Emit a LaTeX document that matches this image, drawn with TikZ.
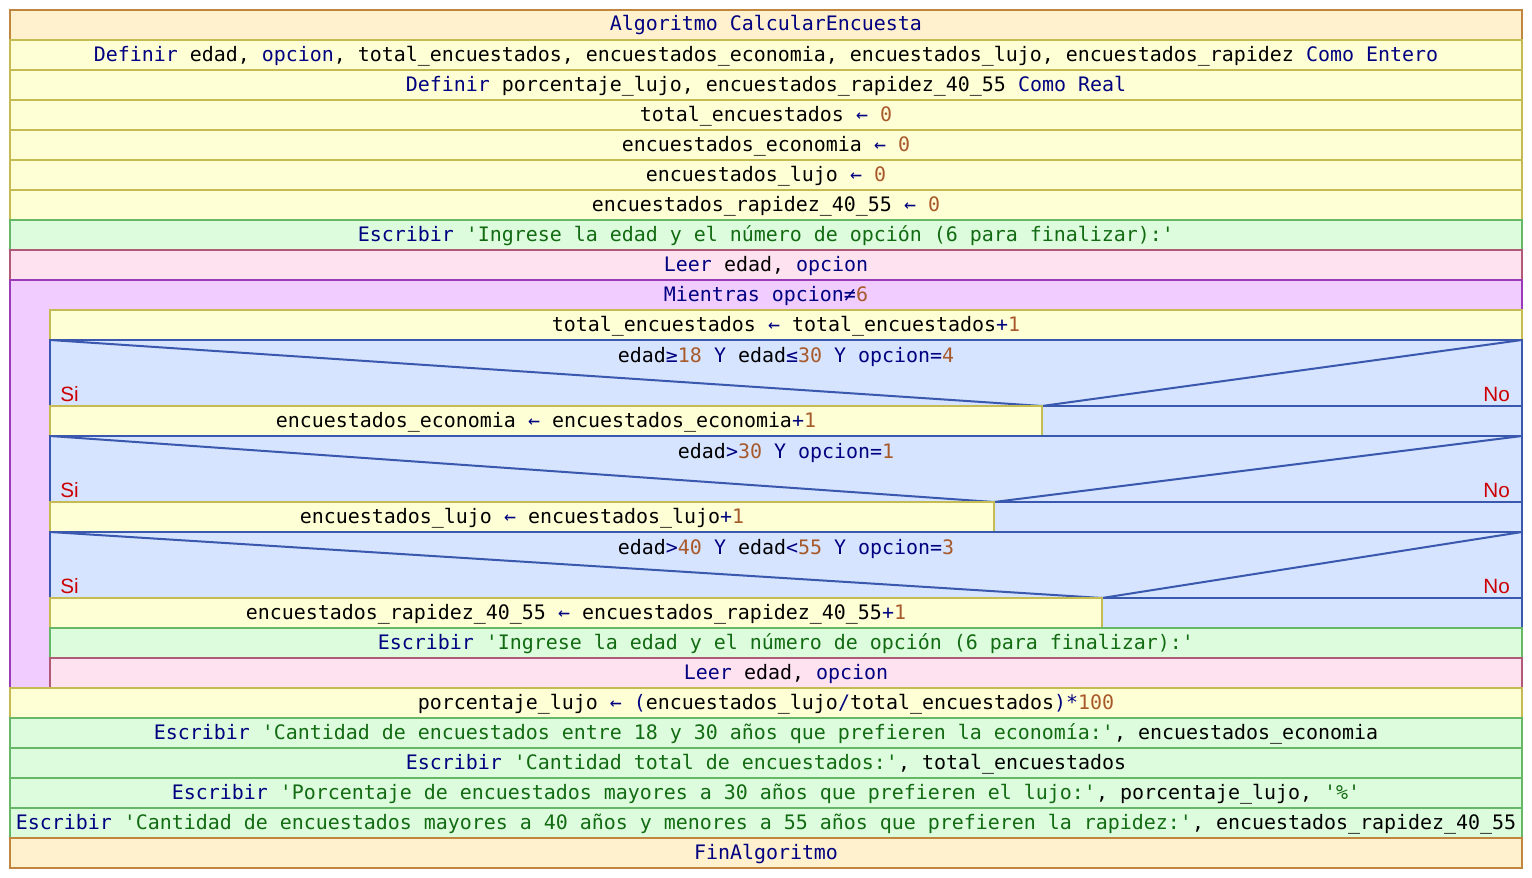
\documentclass[tikz,border=0pt]{standalone}
\usepackage{fontspec}
\setmonofont{DejaVu Sans Mono}
\newfontfamily\sisans{Liberation Sans}
\definecolor{orfill}{HTML}{FFF0CE}
\definecolor{ordraw}{HTML}{C0853E}
\definecolor{yefill}{HTML}{FFFFD6}
\definecolor{yedraw}{HTML}{C4BC52}
\definecolor{grfill}{HTML}{DDFCDD}
\definecolor{grdraw}{HTML}{66B866}
\definecolor{pkfill}{HTML}{FFE2F0}
\definecolor{pkdraw}{HTML}{B05A78}
\definecolor{pufill}{HTML}{F0CCFF}
\definecolor{pudraw}{HTML}{9A3CB8}
\definecolor{blfill}{HTML}{D6E4FF}
\definecolor{bldraw}{HTML}{3A58AE}
\definecolor{kwc}{HTML}{000080}
\definecolor{numc}{HTML}{A8592A}
\definecolor{strc}{HTML}{126B12}
\definecolor{sinoc}{HTML}{CC0000}
\newcommand\kwd[1]{\textcolor{kwc}{#1}}
\newcommand\nmb[1]{\textcolor{numc}{#1}}
\newcommand\strg[1]{\textcolor{strc}{#1}}
\newcommand\asg{\kwd{←}}
\begin{document}
\begin{tikzpicture}[x=0.75pt,y=-0.75pt,
  orbox/.style={fill=orfill,draw=ordraw,line width=1.5pt},
  yebox/.style={fill=yefill,draw=yedraw,line width=1.5pt},
  grbox/.style={fill=grfill,draw=grdraw,line width=1.5pt},
  pkbox/.style={fill=pkfill,draw=pkdraw,line width=1.5pt},
  pubox/.style={fill=pufill,draw=pudraw,line width=1.5pt},
  blbox/.style={fill=blfill,draw=bldraw,line width=1.5pt},
  diag/.style={draw=bldraw,line width=1.5pt},
  txt/.style={anchor=base,inner sep=0pt,font=\ttfamily\fontsize{14.95}{18}\selectfont},
  sino/.style={inner sep=0pt,font=\sisans\fontsize{15.5}{18}\selectfont,text=sinoc}]
\useasboundingbox (0,0) rectangle (1532,878);
% header rows
\draw[orbox] (10,10) rectangle (1522,40);
\node[txt] (t1) at (766,31) {\kwd{Algoritmo CalcularEncuesta}};
\draw[yebox] (10,40) rectangle (1522,70);
\node[txt] (t2) at (766,61) {\kwd{Definir} edad, \kwd{opcion}, total\_encuestados, encuestados\_economia, encuestados\_lujo, encuestados\_rapidez \kwd{Como Entero}};
\draw[yebox] (10,70) rectangle (1522,100);
\node[txt] (t3) at (766,91) {\kwd{Definir} porcentaje\_lujo, encuestados\_rapidez\_40\_55 \kwd{Como Real}};
\draw[yebox] (10,100) rectangle (1522,130);
\node[txt] (t4) at (766,121) {total\_encuestados \asg{} \nmb{0}};
\draw[yebox] (10,130) rectangle (1522,160);
\node[txt] (t5) at (766,151) {encuestados\_economia \asg{} \nmb{0}};
\draw[yebox] (10,160) rectangle (1522,190);
\node[txt] (t6) at (766,181) {encuestados\_lujo \asg{} \nmb{0}};
\draw[yebox] (10,190) rectangle (1522,220);
\node[txt] (t7) at (766,211) {encuestados\_rapidez\_40\_55 \asg{} \nmb{0}};
\draw[grbox] (10,220) rectangle (1522,250);
\node[txt] (t8) at (766,241) {\kwd{Escribir} \strg{'Ingrese la edad y el número de opción (6 para finalizar):'}};
\draw[pkbox] (10,250) rectangle (1522,280);
\node[txt] (t9) at (766,271) {\kwd{Leer} edad, \kwd{opcion}};
% while loop
\draw[pubox] (10,280) rectangle (1522,688);
\node[txt] (w) at (766,301) {\kwd{Mientras opcion≠}\nmb{6}};
\draw[yebox] (50,310) rectangle (1522,340);
\node[txt] (w1) at (786,331) {total\_encuestados \asg{} total\_encuestados\kwd{+}\nmb{1}};
% if 1
\draw[blbox] (50,340) rectangle (1522,436);
\coordinate (s1) at (1042,406);
\draw[diag] (50,340) -- (s1) -- (1522,340);
\draw[bldraw,line width=1.5pt] (50,406) -- (1522,406);
\node[txt] (c1) at (786,362) {edad\kwd{≥}\nmb{18} \kwd{Y} edad\kwd{≤}\nmb{30} \kwd{Y opcion=}\nmb{4}};
\node[sino,anchor=base west] (si1) at (60,401) {Si};
\node[sino,anchor=base east] (no1) at (1510,401) {No};
\draw[yebox] (50,406) rectangle (1042,436);
\node[txt] (a1) at (546,427) {encuestados\_economia \asg{} encuestados\_economia\kwd{+}\nmb{1}};
% if 2
\draw[blbox] (50,436) rectangle (1522,532);
\coordinate (s2) at (994,502);
\draw[diag] (50,436) -- (s2) -- (1522,436);
\draw[bldraw,line width=1.5pt] (50,502) -- (1522,502);
\node[txt] (c2) at (786,458) {edad\kwd{>}\nmb{30} \kwd{Y opcion=}\nmb{1}};
\node[sino,anchor=base west] (si2) at (60,497) {Si};
\node[sino,anchor=base east] (no2) at (1510,497) {No};
\draw[yebox] (50,502) rectangle (994,532);
\node[txt] (a2) at (522,523) {encuestados\_lujo \asg{} encuestados\_lujo\kwd{+}\nmb{1}};
% if 3
\draw[blbox] (50,532) rectangle (1522,628);
\coordinate (s3) at (1102,598);
\draw[diag] (50,532) -- (s3) -- (1522,532);
\draw[bldraw,line width=1.5pt] (50,598) -- (1522,598);
\node[txt] (c3) at (786,554) {edad\kwd{>}\nmb{40} \kwd{Y} edad\kwd{<}\nmb{55} \kwd{Y opcion=}\nmb{3}};
\node[sino,anchor=base west] (si3) at (60,593) {Si};
\node[sino,anchor=base east] (no3) at (1510,593) {No};
\draw[yebox] (50,598) rectangle (1102,628);
\node[txt] (a3) at (576,619) {encuestados\_rapidez\_40\_55 \asg{} encuestados\_rapidez\_40\_55\kwd{+}\nmb{1}};
% loop tail
\draw[grbox] (50,628) rectangle (1522,658);
\node[txt] (w2) at (786,649) {\kwd{Escribir} \strg{'Ingrese la edad y el número de opción (6 para finalizar):'}};
\draw[pkbox] (50,658) rectangle (1522,688);
\node[txt] (w3) at (786,679) {\kwd{Leer} edad, \kwd{opcion}};
\draw[pudraw,line width=1.5pt] (10,280) -- (10,688);
% after loop
\draw[yebox] (10,688) rectangle (1522,718);
\node[txt] (p1) at (766,709) {porcentaje\_lujo \asg{} \kwd{(}encuestados\_lujo\kwd{/}total\_encuestados\kwd{)*}\nmb{100}};
\draw[grbox] (10,718) rectangle (1522,748);
\node[txt] (p2) at (766,739) {\kwd{Escribir} \strg{'Cantidad de encuestados entre 18 y 30 años que prefieren la economía:'}, encuestados\_economia};
\draw[grbox] (10,748) rectangle (1522,778);
\node[txt] (p3) at (766,769) {\kwd{Escribir} \strg{'Cantidad total de encuestados:'}, total\_encuestados};
\draw[grbox] (10,778) rectangle (1522,808);
\node[txt] (p4) at (766,799) {\kwd{Escribir} \strg{'Porcentaje de encuestados mayores a 30 años que prefieren el lujo:'}, porcentaje\_lujo, \strg{'\%'}};
\draw[grbox] (10,808) rectangle (1522,838);
\node[txt] (p5) at (766,829) {\kwd{Escribir} \strg{'Cantidad de encuestados mayores a 40 años y menores a 55 años que prefieren la rapidez:'}, encuestados\_rapidez\_40\_55};
\draw[orbox] (10,838) rectangle (1522,868);
\node[txt] (p6) at (766,859) {\kwd{FinAlgoritmo}};
\end{tikzpicture}
\end{document}
